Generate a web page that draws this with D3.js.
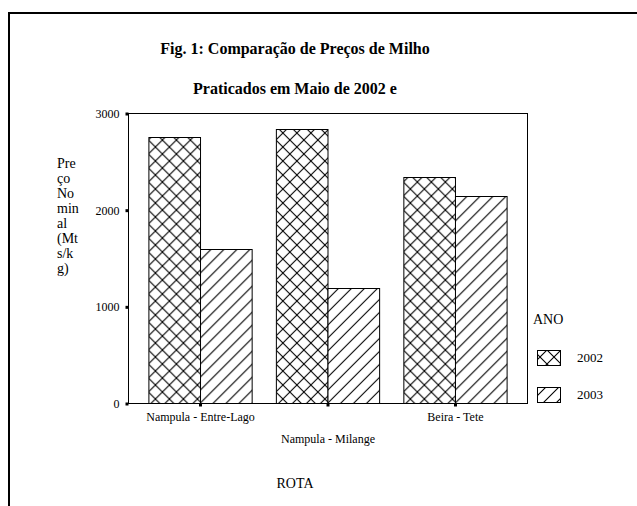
<!DOCTYPE html>
<html>
<head>
<meta charset="utf-8">
<script src="https://cdn.jsdelivr.net/npm/d3@7"></script>
<style>
  body { margin: 0; background: #fff; }
  text { font-family: "Liberation Serif", "Times New Roman", serif; fill: #000; }
</style>
</head>
<body>
<svg id="chart" width="637" height="506"></svg>
<script>
const routes = ["Nampula - Entre-Lago", "Nampula - Milange", "Beira - Tete"];
const years = ["2002", "2003"];
const values2002 = [2750, 2830, 2340];
const values2003 = [1590, 1190, 2140];
const yTicks = [0, 1000, 2000, 3000];
const titleLines = ["Fig. 1: Comparação de Preços de Milho", "Praticados em Maio de 2002 e"];
const yLabelLines = ["Pre", "ço", "No", "min", "al", "(Mt", "s/k", "g)"];

const svg = d3.select("#chart");
const serif = "'Liberation Serif', 'Times New Roman', serif";

const plot = { left: 128, top: 113, right: 527, bottom: 403 };

// hatch patterns
const defs = svg.append("defs");
const cs = 14;
const cross = defs.append("pattern")
  .attr("id", "p2002")
  .attr("patternUnits", "userSpaceOnUse")
  .attr("width", cs).attr("height", cs);
cross.append("rect").attr("width", cs).attr("height", cs).attr("fill", "#fff");
cross.append("path")
  .attr("d", `M0,0L${cs},${cs}M${cs},0L0,${cs}`)
  .attr("stroke", "#000").attr("stroke-width", 1.1);

const ds = 13;
const diag = defs.append("pattern")
  .attr("id", "p2003")
  .attr("patternUnits", "userSpaceOnUse")
  .attr("width", ds).attr("height", ds);
diag.append("rect").attr("width", ds).attr("height", ds).attr("fill", "#fff");
diag.append("path")
  .attr("d", `M-1,${ds + 1}L${ds + 1},-1M-1,1L1,-1M${ds - 1},${ds + 1}L${ds + 1},${ds - 1}`)
  .attr("stroke", "#000").attr("stroke-width", 1.1);

const fills = { "2002": "url(#p2002)", "2003": "url(#p2003)" };

// outer frame
svg.append("path")
  .attr("d", "M9,506V13H637")
  .attr("fill", "none")
  .attr("stroke", "#000")
  .attr("stroke-width", 2);

// title
svg.selectAll(".title")
  .data(titleLines)
  .enter()
  .append("text")
  .attr("class", "title")
  .attr("x", 295)
  .attr("y", (d, i) => 54 + i * 40)
  .attr("text-anchor", "middle")
  .style("font-size", "16px")
  .style("font-weight", "bold")
  .text(d => d);

const x = d3.scaleBand()
  .domain(routes)
  .range([plot.left, plot.right])
  .paddingInner(0.19)
  .paddingOuter(0.16);

const xInner = d3.scaleBand()
  .domain(years)
  .range([0, x.bandwidth()]);

const y = d3.scaleLinear()
  .domain([0, 3000])
  .range([plot.bottom, plot.top]);

// bars
const rows = routes.map((r, i) => ({ route: r, values: [values2002[i], values2003[i]] }));

const groups = svg.selectAll(".grp")
  .data(rows)
  .enter()
  .append("g")
  .attr("transform", d => `translate(${x(d.route)},0)`);

groups.selectAll("rect")
  .data(d => d.values.map((v, j) => ({ year: years[j], value: v })))
  .enter()
  .append("rect")
  .attr("x", d => xInner(d.year) + 0.5)
  .attr("y", d => Math.round(y(d.value)) + 0.5)
  .attr("width", xInner.bandwidth())
  .attr("height", d => plot.bottom - Math.round(y(d.value)))
  .attr("fill", d => fills[d.year])
  .attr("stroke", "#000")
  .attr("stroke-width", 1);

// plot frame
svg.append("rect")
  .attr("x", plot.left + 0.5)
  .attr("y", plot.top + 0.5)
  .attr("width", plot.right - plot.left)
  .attr("height", plot.bottom - plot.top)
  .attr("fill", "none")
  .attr("stroke", "#000")
  .attr("stroke-width", 1);

// y axis
const yAxis = svg.append("g")
  .attr("transform", `translate(${plot.left + 0.5},0.5)`)
  .call(d3.axisLeft(y).tickValues(yTicks).tickSize(3).tickPadding(6).tickFormat(d3.format("d")));
yAxis.attr("font-family", null);
yAxis.select(".domain").remove();
yAxis.selectAll(".tick line").attr("stroke-width", 3);
yAxis.selectAll("text")
  .style("font-size", "12px")
  .style("font-family", serif);

// x axis
const xAxis = svg.append("g")
  .attr("transform", `translate(0.5,${plot.bottom + 0.5})`)
  .call(d3.axisBottom(x).tickSize(3).tickPadding(6));
xAxis.attr("font-family", null);
xAxis.select(".domain").remove();
xAxis.selectAll(".tick line").attr("stroke-width", 3);
xAxis.selectAll("text")
  .style("font-size", "12px")
  .style("font-family", serif)
  .attr("dy", (d, i) => i % 2 === 1 ? "2.5em" : "0.71em");

// y label
svg.selectAll(".ylab")
  .data(yLabelLines)
  .enter()
  .append("text")
  .attr("class", "ylab")
  .attr("x", 57)
  .attr("y", (d, i) => 168 + i * 15)
  .style("font-size", "14px")
  .text(d => d);

// x label
svg.append("text")
  .attr("x", 295)
  .attr("y", 488)
  .attr("text-anchor", "middle")
  .style("font-size", "14px")
  .text("ROTA");

// legend
const legend = svg.append("g").attr("transform", "translate(533,0)");
legend.append("text")
  .attr("x", 0)
  .attr("y", 324)
  .style("font-size", "14px")
  .text("ANO");

const items = legend.selectAll(".item")
  .data(years)
  .enter()
  .append("g")
  .attr("transform", (d, i) => `translate(0,${350 + i * 37})`);
items.append("rect")
  .attr("x", 4.5).attr("y", 0.5)
  .attr("width", 23).attr("height", 15)
  .attr("fill", d => fills[d])
  .attr("stroke", "#000");
items.append("text")
  .attr("x", 44)
  .attr("y", 12)
  .style("font-size", "13px")
  .text(d => d);
</script>
</body>
</html>
